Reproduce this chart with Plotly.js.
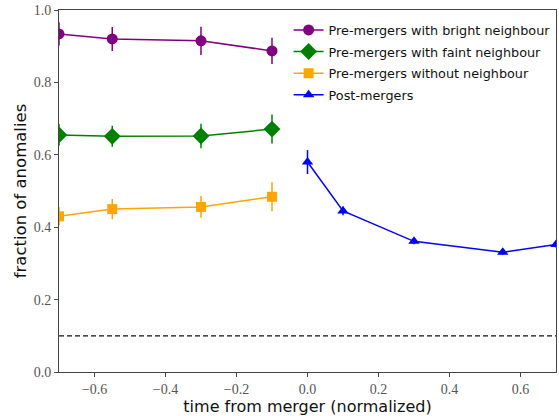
<!DOCTYPE html>
<html>
<head>
<meta charset="utf-8">
<script src="https://cdn.plot.ly/plotly-3.0.1.min.js"></script>
<style>html,body{margin:0;padding:0;background:#fff;}</style>
</head>
<body>
<div id="chart" style="width:559px;height:416px;"></div>
<script>
const preX = [-0.7, -0.55, -0.3, -0.1];
const brightY = [0.934, 0.920, 0.915, 0.887];
const brightErr = [0.032, 0.033, 0.039, 0.036];
const faintY = [0.655, 0.651, 0.652, 0.671];
const faintErr = [0.030, 0.029, 0.034, 0.040];
const noneY = [0.430, 0.450, 0.456, 0.484];
const noneErr = [0.025, 0.028, 0.030, 0.040];
const postX = [0.0, 0.1, 0.3, 0.55, 0.7];
const postY = [0.580, 0.445, 0.361, 0.331, 0.352];
const postErr = [0.033, 0.012, 0.008, 0.007, 0.008];
const baseline = 0.1;
const names = ['Pre-mergers with bright neighbour', 'Pre-mergers with faint neighbour', 'Pre-mergers without neighbour', 'Post-mergers'];

function tr(x, y, err, name, color, symbol, size) {
  return {
    x: x, y: y, name: name, legendgroup: name, type: 'scatter', mode: 'lines+markers',
    line: {color: color, width: 1.5},
    marker: {color: color, symbol: symbol, size: size},
    error_y: {type: 'data', array: err, visible: true, color: color, thickness: 1.5, width: 0}
  };
}
const data = [
  tr(preX, brightY, brightErr, names[0], '#800080', 'circle', 11),
  tr(preX, faintY, faintErr, names[1], '#008000', 'diamond', 13),
  tr(preX, noneY, noneErr, names[2], '#FFA500', 'square', 10),
  tr(postX, postY, postErr, names[3], '#0000FF', 'triangle-up', 10)
];
const tickFont = {family: 'Liberation Serif, serif', size: 14, color: '#555'};
const layout = {
  width: 559, height: 416,
  margin: {l: 59, r: 3, t: 10, b: 44, autoexpand: false},
  paper_bgcolor: '#fff', plot_bgcolor: '#fff',
  showlegend: true,
  legend: {x: 0.462, y: 0.986, xanchor: 'left', yanchor: 'top', bgcolor: 'rgba(0,0,0,0)',
           font: {family: 'DejaVu Sans, sans-serif', size: 12.8, color: '#111'}, tracegroupgap: 2},
  xaxis: {
    range: [-0.7, 0.7], tickvals: [-0.6, -0.4, -0.2, 0.0, 0.2, 0.4, 0.6],
    ticktext: ['\u22120.6', '\u22120.4', '\u22120.2', '0.0', '0.2', '0.4', '0.6'],
    showgrid: false, zeroline: false, showline: true, linecolor: '#444', linewidth: 1, mirror: true,
    ticks: 'outside', ticklen: 4, tickcolor: '#444', tickfont: tickFont,
    title: {text: 'time from merger (normalized)', font: {family: 'DejaVu Sans, sans-serif', size: 16, color: '#111'}, standoff: 2}
  },
  yaxis: {
    range: [0, 1], tickvals: [0, 0.2, 0.4, 0.6, 0.8, 1.0],
    ticktext: ['0.0', '0.2', '0.4', '0.6', '0.8', '1.0'],
    showgrid: false, zeroline: false, showline: true, linecolor: '#444', linewidth: 1, mirror: true,
    ticks: 'outside', ticklen: 4, tickcolor: '#444', tickfont: tickFont,
    title: {text: 'fraction of anomalies', font: {family: 'DejaVu Sans, sans-serif', size: 16.5, color: '#111'}, standoff: 2}
  },
  shapes: [{type: 'line', xref: 'paper', x0: 0, x1: 1, yref: 'y', y0: baseline, y1: baseline,
            line: {color: '#111', width: 1.3, dash: '5px,3px'}}]
};
Plotly.newPlot('chart', data, layout, {displayModeBar: false, staticPlot: true});
</script>
</body>
</html>
